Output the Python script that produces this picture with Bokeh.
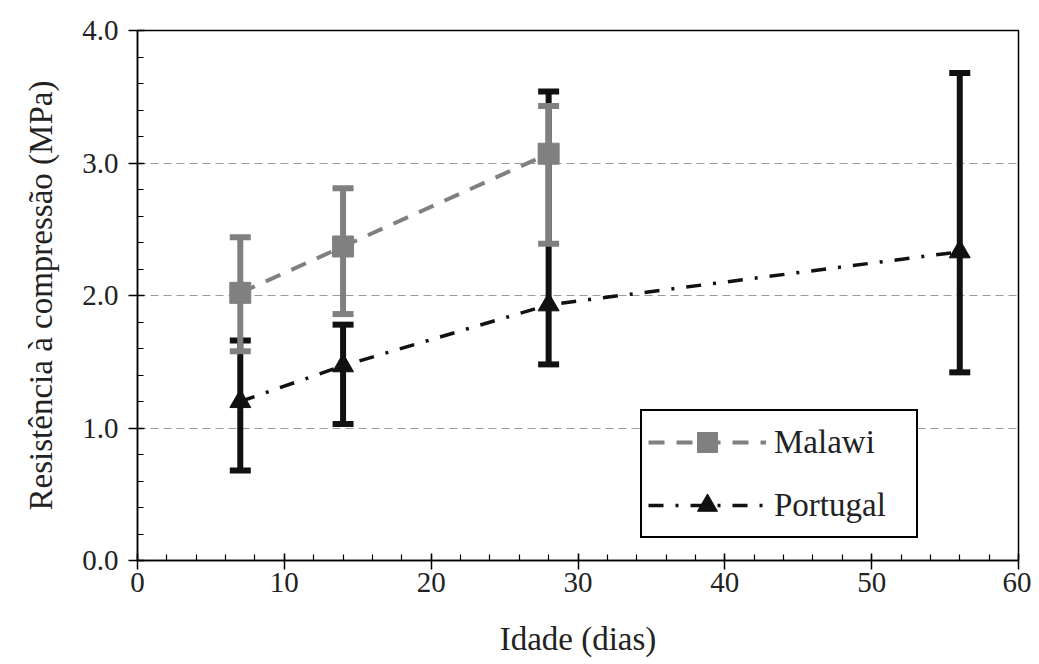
from bokeh.plotting import figure
from bokeh.models import (ColumnDataSource, Whisker, TeeHead, Legend, LegendItem,
                          FixedTicker, NumeralTickFormatter, Range1d)
from bokeh.embed import file_html
from bokeh.resources import INLINE

# Data
malawi_age = [7, 14, 28]
malawi_mean = [2.02, 2.37, 3.07]
malawi_upper = [2.44, 2.81, 3.43]
malawi_lower = [1.58, 1.86, 2.39]

portugal_age = [7, 14, 28, 56]
portugal_mean = [1.20, 1.47, 1.93, 2.33]
portugal_upper = [1.66, 1.78, 3.54, 3.68]
portugal_lower = [0.68, 1.03, 1.48, 1.42]

x_ticks = [0, 10, 20, 30, 40, 50, 60]
y_ticks = [0.0, 1.0, 2.0, 3.0, 4.0]

FONT = "Liberation Serif"
GRAY = "#808080"
BLACK = "#111111"

p = figure(width=1031, height=660, output_backend="svg", toolbar_location=None,
           x_range=Range1d(0, 60), y_range=Range1d(0, 4),
           min_border_left=137, min_border_top=30, min_border_right=13, min_border_bottom=100)

p.background_fill_color = "white"
p.outline_line_color = "black"
p.outline_line_width = 1.5
p.outline_line_alpha = 1.0

# grid
p.xgrid.grid_line_color = None
p.ygrid.ticker = FixedTicker(ticks=[1.0, 2.0, 3.0])
p.ygrid.grid_line_color = "#999999"
p.ygrid.grid_line_dash = "8 5"
p.ygrid.grid_line_width = 1

# axes
p.xaxis.ticker = FixedTicker(ticks=x_ticks, minor_ticks=list(range(0, 61, 2)))
p.yaxis.ticker = FixedTicker(ticks=y_ticks, minor_ticks=[i * 0.2 for i in range(21)])
p.yaxis.formatter = NumeralTickFormatter(format="0.0")
for ax in (p.xaxis, p.yaxis):
    ax.axis_line_color = "black"
    ax.axis_line_width = 1.5
    ax.major_tick_line_color = "black"
    ax.minor_tick_line_color = "black"
    ax.major_tick_line_width = 1.5
    ax.minor_tick_line_width = 1.2
    ax.major_tick_in = 7
    ax.major_tick_out = 9
    ax.minor_tick_in = 6
    ax.minor_tick_out = 0
    ax.major_label_text_font = FONT
    ax.major_label_text_font_size = "29px"
    ax.major_label_text_color = "#222222"
    ax.axis_label_text_font = FONT
    ax.axis_label_text_font_size = "33px"
    ax.axis_label_text_font_style = "normal"
    ax.axis_label_text_color = "#222222"
p.xaxis.axis_label = "Idade (dias)"
p.yaxis.axis_label = "Resistência à compressão (MPa)"
p.xaxis.major_label_standoff = 3
p.yaxis.major_label_standoff = 10
p.xaxis.axis_label_standoff = 26
p.yaxis.axis_label_standoff = 20

msrc = ColumnDataSource(dict(x=malawi_age, y=malawi_mean, up=malawi_upper, lo=malawi_lower))
psrc = ColumnDataSource(dict(x=portugal_age, y=portugal_mean, up=portugal_upper, lo=portugal_lower))

# lines
pl = p.line("x", "y", source=psrc, line_color=BLACK, line_width=3.5, line_dash="15 12 3 12")
ml = p.line("x", "y", source=msrc, line_color=GRAY, line_width=4, line_dash="16 12")

# error bars
pw = Whisker(source=psrc, base="x", upper="up", lower="lo", line_color=BLACK, line_width=6,
             upper_head=TeeHead(size=21, line_color=BLACK, line_width=6),
             lower_head=TeeHead(size=21, line_color=BLACK, line_width=6))
mw = Whisker(source=msrc, base="x", upper="up", lower="lo", line_color=GRAY, line_width=6,
             upper_head=TeeHead(size=21, line_color=GRAY, line_width=6),
             lower_head=TeeHead(size=21, line_color=GRAY, line_width=6))
p.add_layout(pw)
p.add_layout(mw)

# markers
ps = p.scatter("x", "y", source=psrc, marker="triangle", size=21, fill_color=BLACK, line_color=BLACK)
ms = p.scatter("x", "y", source=msrc, marker="square", size=21, fill_color=GRAY, line_color=GRAY)

legend = Legend(items=[LegendItem(label="Malawi", renderers=[ml, ms]),
                       LegendItem(label="Portugal", renderers=[pl, ps])],
                location=(503, 22))
legend.label_text_font = FONT
legend.label_text_font_size = "33px"
legend.label_text_color = "#222222"
legend.glyph_width = 118
legend.glyph_height = 50
legend.label_width = 136
legend.label_standoff = 8
legend.spacing = 13
legend.padding = 6
legend.margin = 0
legend.border_line_color = "black"
legend.border_line_width = 2
legend.border_line_alpha = 1.0
legend.background_fill_color = "white"
legend.background_fill_alpha = 1.0
p.add_layout(legend)

open("out.html", "w").write(file_html(p, INLINE))
